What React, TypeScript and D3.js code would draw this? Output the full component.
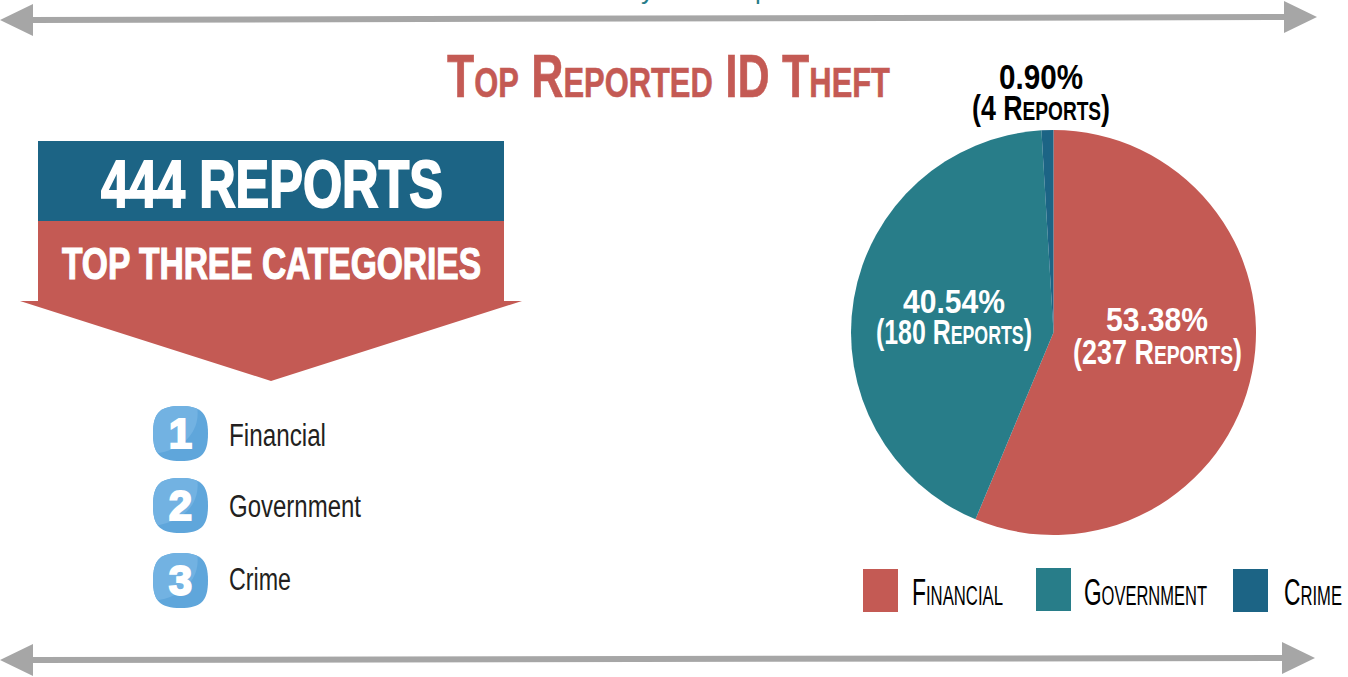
import * as d3 from "d3";

const categories = ["Financial", "Government", "Crime"];
const reports = [237, 180, 4];
const percentLabels = ["53.38%", "40.54%", "0.90%"];
const colors = ["#c45a54", "#287d89", "#1c6485"];

const WIDTH = 1348;
const HEIGHT = 677;
const FONT = "'Liberation Sans Narrow', 'Liberation Sans', sans-serif";
const RED = "#c45a54";
const BLUE = "#1c6485";
const GREY = "#a6a6a6";
const SQUIRCLE = "M27.5,0C48,0 55,7 55,27.5C55,48 48,55 27.5,55C7,55 0,48 0,27.5C0,7 7,0 27.5,0Z";

// capitals big, everything else small = fake small caps
const SmallCaps = ({text, x, y, width, big, small, fill, weight = 400, stroke = 0}: any) => (
    <text x={x} y={y} textLength={width} lengthAdjust="spacingAndGlyphs"
          fontFamily={FONT} fontWeight={weight} fill={fill}
          stroke={stroke ? fill : "none"} strokeWidth={stroke}
          style={{whiteSpace: "pre"}}>
        {text.split(/(?<=[^a-z])(?=[a-z])|(?<=[a-z])(?=[^a-z])/).map((part: string, i: number) => (
            /[a-z]/.test(part)
                ? <tspan key={i} fontSize={small}>{part.toUpperCase()}</tspan>
                : <tspan key={i} fontSize={big}>{part}</tspan>
        ))}
    </text>
);

const Label = ({text, x, y, width, size, fill, weight = 700, stroke = 0}: any) => (
    <text x={x} y={y} textLength={width} lengthAdjust="spacingAndGlyphs"
          fontFamily={FONT} fontSize={size} fontWeight={weight} fill={fill}
          stroke={stroke ? fill : "none"} strokeWidth={stroke}>
        {text}
    </text>
);

const Arrow = ({x1, y1, x2, y2}: any) => (
    <g fill={GREY}>
        <path d={d3.line()([[x1 + 30, y1 - 3], [x2 - 30, y2 - 3], [x2 - 30, y2 + 3], [x1 + 30, y1 + 3]]) + "Z"}/>
        <path d={d3.line()([[x1, y1], [x1 + 33, y1 - 16], [x1 + 33, y1 + 16]]) + "Z"}/>
        <path d={d3.line()([[x2, y2], [x2 - 33, y2 - 16], [x2 - 33, y2 + 16]]) + "Z"}/>
    </g>
);

const Badge = ({n, y}: any) => (
    <g transform={`translate(153,${y})`}>
        <clipPath id={`badge-${n}`}>
            <path d={SQUIRCLE}/>
        </clipPath>
        <g clipPath={`url(#badge-${n})`}>
            <rect width={55} height={55} fill="#5fa6db"/>
            <path d="M0,0H44C48,22 34,44 0,48Z" fill="#72b2e2"/>
        </g>
        <text x={27.5} y={42} textAnchor="middle" fontFamily={FONT} fontSize={42} fontWeight={700}
              fill="#fff" stroke="#fff" strokeWidth={2}>{n}</text>
    </g>
);

const App = () => {
    const pie = d3.pie<number>().sort(null)(reports);
    const arc = d3.arc<d3.PieArcDatum<number>>().innerRadius(0).outerRadius(202.5);

    return (
        <svg width={WIDTH} height={HEIGHT} viewBox={`0 0 ${WIDTH} ${HEIGHT}`}
             style={{position: "absolute", left: 0, top: 0, display: "block", background: "#fff"}}>
            {/* descenders of the heading cut off by the crop */}
            <g fontFamily={FONT} fontSize={26} fill={colors[1]}>
                <text x={641} y={-1}>y</text>
                <text x={755} y={-1}>p</text>
            </g>
            <Arrow x1={0} y1={20} x2={1317} y2={17}/>
            <Arrow x1={0} y1={660} x2={1315} y2={658}/>

            <SmallCaps text="Top Reported ID Theft" x={447} y={97} width={443} big={62} small={43}
                       fill={RED} weight={700} stroke={0.6}/>

            {/* banner */}
            <rect x={38} y={141} width={466} height={80} fill={BLUE}/>
            <path d={d3.line()([[38, 221], [504, 221], [504, 301], [522, 301], [271, 381], [20, 301], [38, 301]]) + "Z"}
                  fill={RED}/>
            <Label text="444 REPORTS" x={101} y={207} width={342} size={67} fill="#fff" stroke={2}/>
            <Label text="TOP THREE CATEGORIES" x={62} y={279} width={419} size={45} fill="#fff" stroke={1.2}/>

            {/* ranked list */}
            {categories.map((c, i) => (
                <g key={c}>
                    <Badge n={i + 1} y={[406, 478, 553][i]}/>
                    <Label text={c} x={229} y={[446, 517, 590][i]} width={[97, 132, 62][i]} size={31}
                           fill="#231f20" weight={400}/>
                </g>
            ))}

            {/* pie */}
            <g transform="translate(1053.5,332.5)">
                {pie.map((d, i) => (
                    <path key={categories[i]} d={arc(d) as string} fill={colors[i]}/>
                ))}
            </g>
            <Label text={percentLabels[0]} x={1106} y={331} width={102} size={34} fill="#fff"/>
            <SmallCaps text={`(${reports[0]} Reports)`} x={1073} y={364} width={169} big={35} small={25} fill="#fff" weight={700}/>
            <Label text={percentLabels[1]} x={903} y={313} width={102} size={34} fill="#fff"/>
            <SmallCaps text={`(${reports[1]} Reports)`} x={876} y={344} width={156} big={35} small={25} fill="#fff" weight={700}/>
            <Label text={percentLabels[2]} x={999} y={89} width={84} size={35} fill="#000"/>
            <SmallCaps text={`(${reports[2]} Reports)`} x={972} y={120} width={138} big={35} small={25} fill="#000" weight={700}/>

            {/* legend */}
            {categories.map((c, i) => (
                <g key={c}>
                    <rect x={[863, 1036, 1233][i]} y={[569, 568, 569][i]} width={35} height={43} fill={colors[i]}/>
                    <SmallCaps text={c} x={[912, 1084, 1284][i]} y={605} width={[91, 123, 58][i]}
                               big={37} small={27} fill="#000"/>
                </g>
            ))}
        </svg>
    );
};

export default App;
